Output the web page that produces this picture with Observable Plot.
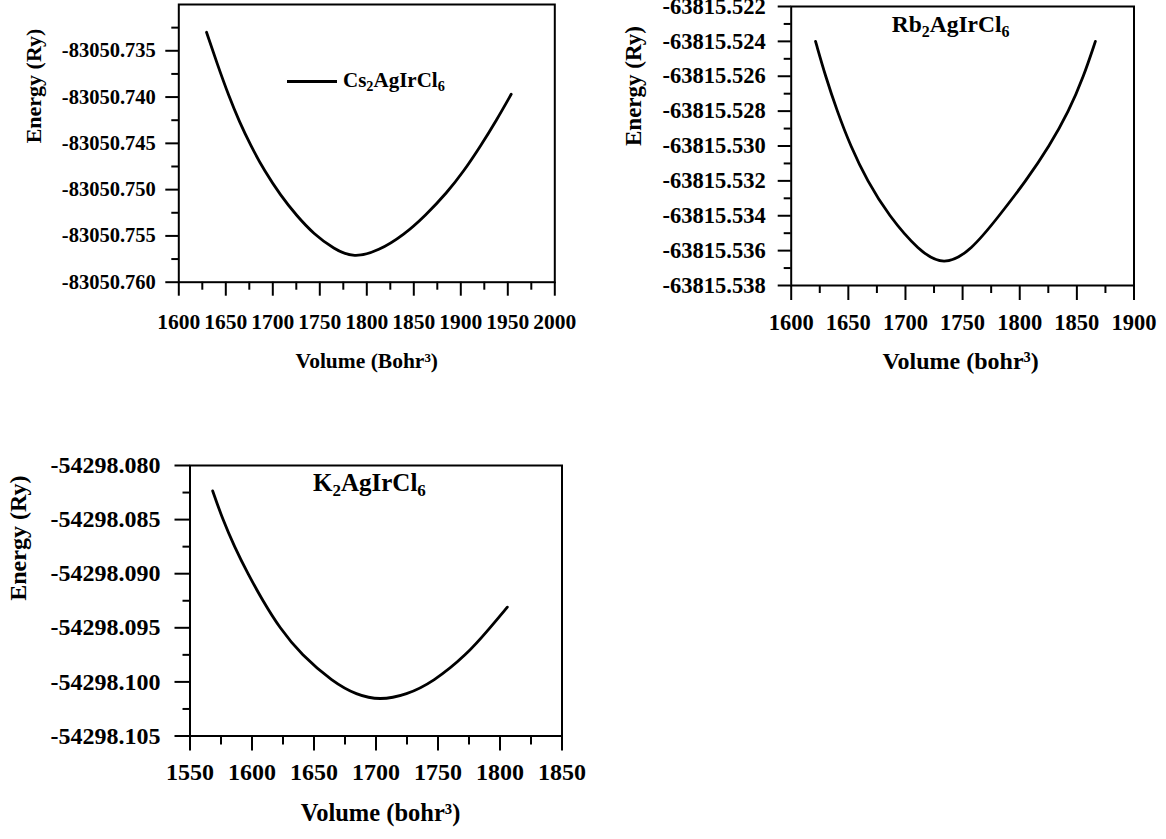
<!DOCTYPE html>
<html><head><meta charset="utf-8">
<script src="https://cdn.jsdelivr.net/npm/d3@7"></script>
<script src="https://cdn.jsdelivr.net/npm/@observablehq/plot@0.6"></script>
<style>
body{margin:0;background:#fff;}
#wrap{position:relative;width:1166px;height:839px;overflow:hidden;font-family:"Liberation Serif","Times New Roman",serif;font-weight:bold;color:#000;}
#wrap svg{position:absolute;}
#wrap svg text{font-family:"Liberation Serif","Times New Roman",serif !important;font-weight:bold;}
.lab{position:absolute;white-space:nowrap;line-height:1;}
.lab sub{font-size:0.68em;vertical-align:baseline;position:relative;top:0.32em;}
.legline{position:absolute;height:3px;background:#000;}
</style></head><body><div id="wrap"></div>
<script>
// ---- Cs2AgIrCl6 ----
const csVolume = [1629.5, 1640.8, 1653.2, 1664.6, 1676.3, 1691.2, 1708.2, 1725.2, 1743.6, 1764.9, 1786.2, 1812.8, 1839.4, 1862.4, 1885.5, 1903.2, 1921.0, 1938.0, 1953.6];
const csEnergy = [-83050.7330, -83050.7364, -83050.7399, -83050.7427, -83050.7452, -83050.7480, -83050.7506, -83050.7528, -83050.7548, -83050.7564, -83050.7574, -83050.7566, -83050.7549, -83050.7528, -83050.7503, -83050.7480, -83050.7453, -83050.7425, -83050.7397];
const csXMajor = [1600, 1650, 1700, 1750, 1800, 1850, 1900, 1950, 2000];
const csXMinor = [1625, 1675, 1725, 1775, 1825, 1875, 1925, 1975];
const csYMajor = [-83050.735, -83050.740, -83050.745, -83050.750, -83050.755, -83050.760];
const csYMinor = [-83050.7325, -83050.7375, -83050.7425, -83050.7475, -83050.7525, -83050.7575];

// ---- Rb2AgIrCl6 ----
const rbVolume = [1621.3, 1630.0, 1640.2, 1651.9, 1666.5, 1685.4, 1711.5, 1733.5, 1757.5, 1782.0, 1805.5, 1826.0, 1843.0, 1856.0, 1866.2];
const rbEnergy = [-63815.5240, -63815.5260, -63815.5280, -63815.5300, -63815.5320, -63815.5340, -63815.5360, -63815.5369, -63815.5360, -63815.5340, -63815.5320, -63815.5300, -63815.5280, -63815.5260, -63815.5240];
const rbXMajor = [1600, 1650, 1700, 1750, 1800, 1850, 1900];
const rbXMinor = [1625, 1675, 1725, 1775, 1825, 1875];
const rbYMajor = [-63815.522, -63815.524, -63815.526, -63815.528, -63815.530, -63815.532, -63815.534, -63815.536, -63815.538];
const rbYMinor = [-63815.523, -63815.525, -63815.527, -63815.529, -63815.531, -63815.533, -63815.535, -63815.537];

// ---- K2AgIrCl6 ----
const kVolume = [1568.3, 1576.4, 1585.8, 1596.6, 1608.7, 1622.2, 1639.7, 1665.3, 1684.2, 1703.0, 1724.6, 1746.1, 1773.1, 1792.0, 1805.9];
const kEnergy = [-54298.08235, -54298.0850, -54298.0875, -54298.0900, -54298.0925, -54298.0950, -54298.0975, -54298.1000, -54298.10120, -54298.10170, -54298.10120, -54298.1000, -54298.0975, -54298.0950, -54298.09309];
const kXMajor = [1550, 1600, 1650, 1700, 1750, 1800, 1850];
const kXMinor = [1575, 1625, 1675, 1725, 1775, 1825];
const kYMajor = [-54298.080, -54298.085, -54298.090, -54298.095, -54298.100, -54298.105];
const kYMinor = [-54298.0825, -54298.0875, -54298.0925, -54298.0975, -54298.1025];

const FONT = '"Liberation Serif", "Times New Roman", serif';
const wrap = document.getElementById("wrap");

function panel(o) {
  const table = o.volume.map((v, i) => ({V: v, E: o.energy[i]}));
  const svg = Plot.plot({
    width: o.width, height: o.height,
    marginLeft: o.m[0], marginTop: o.m[1], marginRight: o.m[2], marginBottom: o.m[3],
    style: {fontFamily: FONT, fontWeight: "bold", color: "black", background: "transparent", overflow: "visible"},
    x: {domain: o.xDomain, label: null},
    y: {domain: o.yDomain, label: null},
    marks: [
      Plot.axisX({ticks: o.xMinor, tickSize: o.xMinorSize, tickFormat: () => "", strokeWidth: 2}),
      Plot.axisX({ticks: o.xMajor, tickSize: o.xTick, tickPadding: o.xPad, fontSize: o.xFont, fontFamily: FONT, fontWeight: "bold", fontVariant: "normal", strokeWidth: 2, tickFormat: d => String(d)}),
      Plot.axisY({ticks: o.yMinor, tickSize: 7, tickFormat: () => "", strokeWidth: 2}),
      Plot.axisY({ticks: o.yMajor, tickSize: o.yTick, tickPadding: o.yPad, fontSize: o.yFont, fontFamily: FONT, fontWeight: "bold", fontVariant: "normal", strokeWidth: 2, tickFormat: d => d.toFixed(3)}),
      Plot.frame({stroke: "black", strokeWidth: 2}),
      Plot.line(table, {x: "V", y: "E", stroke: "black", strokeWidth: 2.8, curve: "basis"}),
      Plot.text([o.xLabel], {text: d => d, frameAnchor: "bottom", dy: o.xLabelDy, dx: o.xLabelDx || 0, fontSize: o.xLabelFont, fontFamily: FONT, fontWeight: "bold"}),
      Plot.text([o.yLabel], {text: d => d, frameAnchor: "left", rotate: -90, dx: o.yLabelDx, fontSize: o.yLabelFont, fontFamily: FONT, fontWeight: "bold"})
    ]
  });
  svg.style.left = o.left + "px";
  svg.style.top = o.top + "px";
  wrap.appendChild(svg);
}

panel({
  volume: csVolume, energy: csEnergy,
  xDomain: [1600, 2000], yDomain: [-83050.760, -83050.730],
  xMajor: csXMajor, xMinor: csXMinor, yMajor: csYMajor, yMinor: csYMinor,
  left: 0, top: 0, width: 580, height: 400, m: [178.3, 4, 25.7, 118.3],
  xTick: 14, xMinorSize: 8, xPad: 18, xFont: 21.5,
  yTick: 13, yPad: 10, yFont: 20.5,
  xLabel: "Volume (Bohr³)", xLabelDy: 86, xLabelFont: 21.5,
  yLabel: "Energy (Ry)", yLabelDx: -145, yLabelFont: 22
});

panel({
  volume: rbVolume, energy: rbEnergy,
  xDomain: [1600, 1900], yDomain: [-63815.538, -63815.522],
  xMajor: rbXMajor, xMinor: rbXMinor, yMajor: rbYMajor, yMinor: rbYMinor,
  left: 600, top: 0, width: 566, height: 400, m: [190.7, 6, 32.5, 115],
  xTick: 15, xMinorSize: 8, xPad: 14, xFont: 22.5,
  yTick: 13, yPad: 12.5, yFont: 22.5,
  xLabel: "Volume (bohr³)", xLabelDy: 83, xLabelDx: -2, xLabelFont: 24,
  yLabel: "Energy (Ry)", yLabelDx: -157.7, yLabelFont: 23
});

panel({
  volume: kVolume, energy: kEnergy,
  xDomain: [1550, 1850], yDomain: [-54298.105, -54298.080],
  xMajor: kXMajor, xMinor: kXMinor, yMajor: kYMajor, yMinor: kYMinor,
  left: 0, top: 420, width: 600, height: 419, m: [189.5, 45, 38.5, 103.5],
  xTick: 15, xMinorSize: 9, xPad: 11.5, xFont: 24,
  yTick: 15, yPad: 14.5, yFont: 24,
  xLabel: "Volume (bohr³)", xLabelDy: 84.5, xLabelDx: 4.5, xLabelFont: 24.5,
  yLabel: "Energy (Ry)", yLabelDx: -171.5, yLabelFont: 24
});

// legend and compound names
function addLabel(html, left, top, size) {
  const d = document.createElement("div");
  d.className = "lab";
  d.innerHTML = html;
  d.style.left = left + "px";
  d.style.top = top + "px";
  d.style.fontSize = size + "px";
  wrap.appendChild(d);
}
const legLine = document.createElement("div");
legLine.className = "legline";
legLine.style.left = "286.7px"; legLine.style.top = "80.2px"; legLine.style.width = "50px";
wrap.appendChild(legLine);
addLabel("Cs<sub>2</sub>AgIrCl<sub>6</sub>", 343, 69.7, 21);
addLabel("Rb<sub>2</sub>AgIrCl<sub>6</sub>", 891.7, 12.6, 23.5);
addLabel("K<sub>2</sub>AgIrCl<sub>6</sub>", 313, 469.8, 25);
</script></body></html>
